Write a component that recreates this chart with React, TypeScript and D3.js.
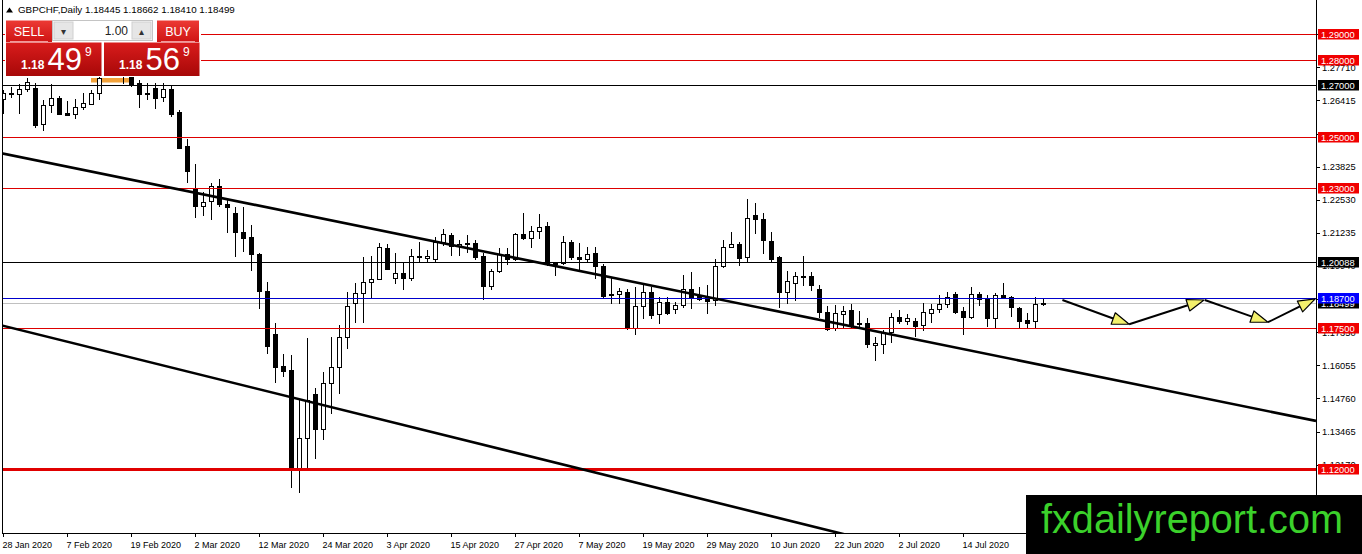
import React, { useEffect, useRef } from 'react';
import * as d3 from 'd3';

const WIDTH = 1362;
const HEIGHT = 554;
const PLOT_RIGHT = 1316;
const PLOT_BOTTOM = 533;

// GBPCHF daily candles, 28 Jan 2020 .. 28 Jul 2020 (one entry per bar)
const opens = [
  1.2648, 1.2669, 1.2665, 1.2685, 1.2689, 1.2548, 1.2622, 1.2651, 1.2592, 1.2587,
  1.2615, 1.2630, 1.2669, 1.2742, 1.2765, 1.2755, 1.2745, 1.2711, 1.2669, 1.2691,
  1.2654, 1.2686, 1.2597, 1.2463, 1.2298, 1.2229, 1.2248, 1.2307, 1.2237, 1.2200,
  1.2127, 1.2107, 1.2040, 1.1895, 1.1728, 1.1603, 1.1587, 1.1200, 1.1320, 1.1492,
  1.1356, 1.1535, 1.1598, 1.1715, 1.1848, 1.1887, 1.1930, 1.1942, 1.2063, 1.1946,
  1.1965, 1.1946, 1.2034, 1.2027, 1.2024, 1.2089, 1.2115, 1.2073, 1.2084, 1.2085,
  1.2033, 1.1917, 1.1972, 1.2040, 1.2020, 1.2119, 1.2105, 1.2132, 1.2150, 1.2006,
  1.2005, 1.2087, 1.2028, 1.2020, 1.2044, 1.1994, 1.1883, 1.1883, 1.1892, 1.1752,
  1.1835, 1.1891, 1.1805, 1.1852, 1.1825, 1.1839, 1.1903, 1.1877, 1.1874, 1.1861,
  1.1995, 1.2070, 1.2080, 1.2027, 1.2193, 1.2177, 1.2093, 1.2028, 1.1891, 1.1930,
  1.1955, 1.1955, 1.1903, 1.1815, 1.1750, 1.1809, 1.1822, 1.1772, 1.1772, 1.1685,
  1.1692, 1.1737, 1.1794, 1.1780, 1.1779, 1.1761, 1.1811, 1.1825, 1.1845, 1.1885,
  1.1819, 1.1794, 1.1885, 1.1864, 1.1790, 1.1881, 1.1874, 1.1829, 1.1783, 1.1780,
  1.18445,
];
const highs = [
  1.2682, 1.2695, 1.2706, 1.2728, 1.2708, 1.2643, 1.2706, 1.2659, 1.2639, 1.2646,
  1.2672, 1.2682, 1.2745, 1.2790, 1.2785, 1.2790, 1.2760, 1.2721, 1.2708, 1.2708,
  1.2708, 1.2702, 1.2604, 1.2491, 1.2392, 1.2283, 1.2319, 1.2333, 1.2252, 1.2226,
  1.2226, 1.2153, 1.2044, 1.1930, 1.1770, 1.1650, 1.1646, 1.1470, 1.1714, 1.1516,
  1.1581, 1.1715, 1.1763, 1.1894, 1.1926, 1.2028, 1.2033, 1.2085, 1.2080, 1.2044,
  1.2011, 1.2059, 1.2087, 1.2057, 1.2109, 1.2138, 1.2122, 1.2096, 1.2115, 1.2096,
  1.2046, 1.1982, 1.2063, 1.2063, 1.2124, 1.2200, 1.2150, 1.2197, 1.2167, 1.2011,
  1.2111, 1.2096, 1.2085, 1.2070, 1.2067, 1.2002, 1.1950, 1.1907, 1.1905, 1.1913,
  1.1924, 1.1913, 1.1872, 1.1872, 1.1855, 1.1959, 1.1972, 1.1913, 1.1920, 1.2020,
  1.2096, 1.2128, 1.2089, 1.2255, 1.2239, 1.2202, 1.2128, 1.2033, 1.1975, 1.1972,
  1.2033, 1.1972, 1.1920, 1.1836, 1.1842, 1.1838, 1.1845, 1.1819, 1.1790, 1.1718,
  1.1744, 1.1811, 1.1822, 1.1806, 1.1790, 1.1848, 1.1844, 1.1881, 1.1894, 1.1894,
  1.1835, 1.1911, 1.1894, 1.1881, 1.1887, 1.1929, 1.1877, 1.1833, 1.1811, 1.1872,
  1.18662,
];
const lows = [
  1.2592, 1.2656, 1.2591, 1.2680, 1.2539, 1.2526, 1.2597, 1.2590, 1.2584, 1.2574,
  1.2607, 1.2628, 1.2646, 1.2740, 1.2745, 1.2711, 1.2698, 1.2617, 1.2648, 1.2612,
  1.2639, 1.2582, 1.2454, 1.2324, 1.2187, 1.2193, 1.2178, 1.2229, 1.2128, 1.2034,
  1.2054, 1.1978, 1.1829, 1.1655, 1.1539, 1.1565, 1.1129, 1.1112, 1.1200, 1.1242,
  1.1316, 1.1418, 1.1499, 1.1672, 1.1774, 1.1776, 1.1872, 1.1942, 1.1982, 1.1929,
  1.1905, 1.1939, 1.2015, 1.2015, 1.2011, 1.2076, 1.2037, 1.2037, 1.2050, 1.2021,
  1.1864, 1.1903, 1.1972, 1.2002, 1.2018, 1.2098, 1.2067, 1.2102, 1.1998, 1.1959,
  1.2002, 1.2021, 1.1976, 1.2011, 1.1947, 1.1874, 1.1848, 1.1848, 1.1748, 1.1727,
  1.1790, 1.1790, 1.1770, 1.1805, 1.1811, 1.1835, 1.1829, 1.1861, 1.1809, 1.1842,
  1.1989, 1.2067, 1.1998, 1.2015, 1.2122, 1.2046, 1.2011, 1.1833, 1.1848, 1.1861,
  1.1920, 1.1900, 1.1796, 1.1745, 1.1744, 1.1757, 1.1754, 1.1757, 1.1679, 1.1627,
  1.1653, 1.1698, 1.1770, 1.1767, 1.1722, 1.1744, 1.1776, 1.1815, 1.1835, 1.1811,
  1.1728, 1.1790, 1.1842, 1.1759, 1.1754, 1.1868, 1.1800, 1.1754, 1.1754, 1.1754,
  1.18410,
];
const closes = [
  1.2672, 1.2664, 1.2685, 1.2712, 1.2545, 1.2624, 1.2650, 1.2590, 1.2586, 1.2615,
  1.2630, 1.2672, 1.2729, 1.2765, 1.2755, 1.2742, 1.2706, 1.2667, 1.2664, 1.2652,
  1.2685, 1.2588, 1.2458, 1.2367, 1.2226, 1.2246, 1.2308, 1.2235, 1.2224, 1.2126,
  1.2105, 1.2040, 1.1894, 1.1679, 1.1600, 1.1585, 1.1200, 1.1322, 1.1470, 1.1356,
  1.1535, 1.1598, 1.1715, 1.1838, 1.1887, 1.1930, 1.1942, 1.2067, 1.1982, 1.1965,
  1.1946, 1.2032, 1.2029, 1.2033, 1.2089, 1.2119, 1.2073, 1.2080, 1.2079, 1.2030,
  1.1917, 1.1976, 1.2040, 1.2020, 1.2119, 1.2105, 1.2132, 1.2148, 1.2002, 1.2002,
  1.2087, 1.2027, 1.2020, 1.2040, 1.1994, 1.1877, 1.1880, 1.1896, 1.1752, 1.1838,
  1.1891, 1.1802, 1.1852, 1.1809, 1.1842, 1.1903, 1.1868, 1.1864, 1.1858, 1.1995,
  1.2070, 1.2080, 1.2027, 1.2181, 1.2177, 1.2093, 1.2024, 1.1891, 1.1935, 1.1956,
  1.1950, 1.1920, 1.1813, 1.1750, 1.1809, 1.1819, 1.1763, 1.1767, 1.1689, 1.1694,
  1.1737, 1.1794, 1.1780, 1.1790, 1.1761, 1.1813, 1.1825, 1.1845, 1.1872, 1.1815,
  1.1796, 1.1885, 1.1864, 1.1790, 1.1881, 1.1870, 1.1833, 1.1780, 1.1770, 1.1845,
  1.18499,
];

// time axis: one label every 8 bars
const dateLabels = [
  '28 Jan 2020', '7 Feb 2020', '19 Feb 2020', '2 Mar 2020', '12 Mar 2020', '24 Mar 2020',
  '3 Apr 2020', '15 Apr 2020', '27 Apr 2020', '7 May 2020', '19 May 2020', '29 May 2020',
  '10 Jun 2020', '22 Jun 2020', '2 Jul 2020', '14 Jul 2020',
];
const labelStep = 8;

// price axis ticks
const priceTicks = [
  1.10875, 1.1217, 1.13465, 1.1476, 1.16055, 1.1735, 1.18645, 1.1994,
  1.21235, 1.2253, 1.23825, 1.2512, 1.26415, 1.2771, 1.29005,
];

// horizontal levels
const redLevels = [1.29, 1.28, 1.25, 1.23, 1.175];
const blackLevels = [1.27, 1.20088];
const blueLevels = [1.187];
const supportLevel = 1.12;
const bid = 1.18499;
const ask = 1.18569;
const lotSize = 1.0;

// trendlines as [bar, price]
const upperTrend: [number, number][] = [[-0.41, 1.2436], [164.1, 1.1388]];
const lowerTrend: [number, number][] = [[-0.41, 1.1763], [110, 1.0907]];

// projected zigzag, each pair is one arrow
const forecastArrows: [number, number][][] = [
  [[132.4, 1.1861], [140.75, 1.1766]],
  [[140.75, 1.1766], [150.1, 1.1861]],
  [[150.2, 1.1861], [158.1, 1.1774]],
  [[158.1, 1.1774], [164.0, 1.1865]],
];

const FONT = 'Liberation Sans, Arial, sans-serif';

export default function App() {
  const svgRef = useRef<SVGSVGElement>(null);

  useEffect(() => {
    if (!svgRef.current) return;
    const svg = d3.select(svgRef.current);
    svg.selectAll('*').remove();

    const x = d3.scaleLinear().domain([-0.4125, 164.1]).range([0, PLOT_RIGHT]);
    const y = d3.scaleLinear().domain([1.12, 1.29]).range([469, 34.3]);
    const px = (v: number) => Math.round(v) + 0.5;

    const defs = svg.append('defs');
    defs.append('clipPath').attr('id', 'plot-clip').append('rect')
      .attr('x', 2).attr('y', 0).attr('width', PLOT_RIGHT - 2).attr('height', PLOT_BOTTOM);

    const btnGrad = defs.append('linearGradient').attr('id', 'btn-red')
      .attr('x1', 0).attr('y1', 0).attr('x2', 0).attr('y2', 1);
    btnGrad.append('stop').attr('offset', '0%').attr('stop-color', '#ec3a34');
    btnGrad.append('stop').attr('offset', '100%').attr('stop-color', '#cf1414');
    const priceGrad = defs.append('linearGradient').attr('id', 'price-red')
      .attr('x1', 0).attr('y1', 0).attr('x2', 0).attr('y2', 1);
    priceGrad.append('stop').attr('offset', '0%').attr('stop-color', '#d91c1c');
    priceGrad.append('stop').attr('offset', '100%').attr('stop-color', '#a70808');

    svg.append('rect').attr('width', WIDTH).attr('height', HEIGHT).attr('fill', '#fff');

    const plot = svg.append('g').attr('clip-path', 'url(#plot-clip)');

    // bid line
    plot.append('line')
      .attr('x1', 0).attr('x2', PLOT_RIGHT)
      .attr('y1', px(y(bid))).attr('y2', px(y(bid)))
      .attr('stroke', '#c0c0c0').attr('stroke-width', 1);

    // orange marker under the trade panel
    plot.append('rect')
      .attr('x', 91).attr('y', 78).attr('width', 38).attr('height', 4.5)
      .attr('fill', '#f2a23a');

    // candles
    const bars = d3.range(opens.length);
    const candles = plot.append('g').attr('shape-rendering', 'crispEdges');
    candles.selectAll('line')
      .data(bars)
      .join('line')
      .attr('x1', i => px(x(i))).attr('x2', i => px(x(i)))
      .attr('y1', i => Math.round(y(highs[i]))).attr('y2', i => Math.round(y(lows[i])) + 1)
      .attr('stroke', '#000').attr('stroke-width', 1);
    candles.selectAll('rect')
      .data(bars)
      .join('rect')
      .attr('x', i => Math.round(x(i)) - 2 + 0.5)
      .attr('y', i => px(y(Math.max(opens[i], closes[i]))))
      .attr('width', 4)
      .attr('height', i => Math.max(1, Math.round(Math.abs(y(opens[i]) - y(closes[i])))))
      .attr('fill', i => (closes[i] >= opens[i] ? '#fff' : '#000'))
      .attr('stroke', '#000').attr('stroke-width', 1);

    // horizontal levels
    const hline = (p: number, color: string, w: number) => {
      const yy = w % 2 === 1 ? px(y(p)) : Math.round(y(p));
      plot.append('line')
        .attr('x1', 0).attr('x2', PLOT_RIGHT).attr('y1', yy).attr('y2', yy)
        .attr('stroke', color).attr('stroke-width', w);
    };
    redLevels.forEach(p => hline(p, '#dd0000', 1));
    blackLevels.forEach(p => hline(p, '#000', 1));
    blueLevels.forEach(p => hline(p, '#0000cc', 1));
    hline(supportLevel, '#e00000', 3);

    // trendlines
    const lineGen = d3.line<[number, number]>().x(d => x(d[0])).y(d => y(d[1]));
    [upperTrend, lowerTrend].forEach(t => {
      plot.append('path').attr('d', lineGen(t))
        .attr('fill', 'none').attr('stroke', '#000').attr('stroke-width', 2.6);
    });

    // forecast arrows
    const arrows = svg.append('g');
    forecastArrows.forEach(([a, b]) => {
      const x1 = x(a[0]), y1 = y(a[1]), x2 = x(b[0]), y2 = y(b[1]);
      const ang = Math.atan2(y2 - y1, x2 - x1);
      const len = 17, hw = 6;
      const bx = x2 - len * Math.cos(ang), by = y2 - len * Math.sin(ang);
      arrows.append('line')
        .attr('x1', x1).attr('y1', y1).attr('x2', bx).attr('y2', by)
        .attr('stroke', '#000').attr('stroke-width', 2);
      const pts = [
        [x2, y2],
        [bx + hw * Math.sin(ang), by - hw * Math.cos(ang)],
        [bx - hw * Math.sin(ang), by + hw * Math.cos(ang)],
      ];
      arrows.append('polygon')
        .attr('points', pts.map(p => p.join(',')).join(' '))
        .attr('fill', '#f3f06c').attr('stroke', '#000').attr('stroke-width', 1.2)
        .attr('stroke-linejoin', 'round');
    });

    // frame
    const frame = svg.append('g').attr('shape-rendering', 'crispEdges');
    frame.append('line').attr('x1', 2.5).attr('x2', 2.5).attr('y1', 0).attr('y2', PLOT_BOTTOM)
      .attr('stroke', '#000');
    frame.append('line').attr('x1', 2).attr('x2', PLOT_RIGHT + 1).attr('y1', PLOT_BOTTOM + 0.5)
      .attr('y2', PLOT_BOTTOM + 0.5).attr('stroke', '#000');
    frame.append('line').attr('x1', PLOT_RIGHT + 0.5).attr('x2', PLOT_RIGHT + 0.5)
      .attr('y1', 0).attr('y2', HEIGHT).attr('stroke', '#000');

    // time axis
    const timeAxis = svg.append('g');
    dateLabels.forEach((label, k) => {
      const xx = px(x(k * labelStep));
      timeAxis.append('line').attr('x1', xx).attr('x2', xx)
        .attr('y1', PLOT_BOTTOM).attr('y2', PLOT_BOTTOM + 4)
        .attr('stroke', '#000').attr('shape-rendering', 'crispEdges');
      timeAxis.append('text')
        .attr('x', xx - 1).attr('y', 548)
        .attr('font-family', FONT).attr('font-size', 9)
        .attr('fill', '#000').text(label);
    });

    // price axis; a tick label fully covered by a level tag is not written
    const tagged = [bid, supportLevel, ...redLevels, ...blackLevels, ...blueLevels];
    const priceAxis = svg.append('g');
    priceTicks.forEach(t => {
      const yy = px(y(t));
      priceAxis.append('line').attr('x1', PLOT_RIGHT).attr('x2', PLOT_RIGHT + 4)
        .attr('y1', yy).attr('y2', yy).attr('stroke', '#000')
        .attr('shape-rendering', 'crispEdges');
      const covered = tagged.some(p => Math.abs(y(p) - y(t)) < 3.5);
      if (covered) return;
      priceAxis.append('text')
        .attr('x', PLOT_RIGHT + 6).attr('y', y(t) + 3.5)
        .attr('font-family', FONT).attr('font-size', 9.3)
        .attr('fill', '#000').text(t.toFixed(5));
    });

    const priceTag = (p: number, bg: string) => {
      const cy = Math.round(y(p));
      priceAxis.append('rect')
        .attr('x', PLOT_RIGHT + 2).attr('y', cy - 5).attr('width', 41).attr('height', 10.5)
        .attr('fill', bg);
      priceAxis.append('text')
        .attr('x', PLOT_RIGHT + 5).attr('y', cy + 3.6)
        .attr('font-family', FONT).attr('font-size', 9.3)
        .attr('fill', '#fff').text(p.toFixed(5));
    };
    priceTag(bid, '#000');
    redLevels.forEach(p => priceTag(p, '#f00000'));
    priceTag(supportLevel, '#f00000');
    blackLevels.forEach(p => priceTag(p, '#000'));
    blueLevels.forEach(p => priceTag(p, '#0000ff'));

    // header
    const n = opens.length - 1;
    svg.append('polygon').attr('points', '6,12.5 9.5,7.5 13,12.5').attr('fill', '#000');
    svg.append('text')
      .attr('x', 18).attr('y', 13)
      .attr('font-family', FONT).attr('font-size', 9.8).attr('fill', '#000')
      .text(`GBPCHF,Daily  ${opens[n].toFixed(5)} ${highs[n].toFixed(5)} ${lows[n].toFixed(5)} ${closes[n].toFixed(5)}`);

    // one-click trading panel
    const panel = svg.append('g');
    panel.append('rect').attr('x', 5).attr('y', 19).attr('width', 196).attr('height', 58).attr('fill', '#fff');
    const button = (bx: number, w: number, label: string) => {
      panel.append('rect').attr('x', bx).attr('y', 20.5).attr('width', w).attr('height', 21.5)
        .attr('fill', 'url(#btn-red)');
      panel.append('line').attr('x1', bx + 4).attr('x2', bx + w - 4).attr('y1', 41.5).attr('y2', 41.5)
        .attr('stroke', '#f39a9a').attr('stroke-width', 1);
      panel.append('text').attr('x', bx + w / 2).attr('y', 35.5).attr('text-anchor', 'middle')
        .attr('font-family', FONT).attr('font-size', 12.5).attr('fill', '#fff').text(label);
    };
    button(6, 46, 'SELL');
    button(157, 42, 'BUY');

    // lot size control
    panel.append('rect').attr('x', 52.5).attr('y', 20.5).attr('width', 100).attr('height', 20)
      .attr('fill', '#fff').attr('stroke', '#c4c4c4');
    [[54, '▾'], [132, '▴']].forEach(([bx, ch]) => {
      panel.append('rect').attr('x', bx as number).attr('y', 22).attr('width', 19).attr('height', 17)
        .attr('fill', '#e6e6e6').attr('stroke', '#d0d0d0');
      panel.append('text').attr('x', (bx as number) + 9.5).attr('y', 34.5).attr('text-anchor', 'middle')
        .attr('font-family', 'DejaVu Sans, sans-serif').attr('font-size', 10).attr('fill', '#333')
        .text(ch as string);
    });
    panel.append('text').attr('x', 128).attr('y', 35).attr('text-anchor', 'end')
      .attr('font-family', FONT).attr('font-size', 12).attr('fill', '#222').text(lotSize.toFixed(2));

    // price boxes
    const priceBox = (bx: number, value: number) => {
      const s = value.toFixed(5);
      panel.append('rect').attr('x', bx).attr('y', 42.5).attr('width', 95.5).attr('height', 33.5)
        .attr('fill', 'url(#price-red)');
      panel.append('text').attr('x', bx + 15).attr('y', 69).attr('font-family', FONT)
        .attr('font-size', 12).attr('font-weight', 'bold').attr('fill', '#fff').text(s.slice(0, 4));
      panel.append('text').attr('x', bx + 41.5).attr('y', 69.5).attr('font-family', FONT)
        .attr('font-size', 31).attr('fill', '#fff').text(s.slice(4, 6));
      panel.append('text').attr('x', bx + 79).attr('y', 55.5).attr('font-family', FONT)
        .attr('font-size', 12).attr('fill', '#fff').text(s.slice(6));
    };
    priceBox(6, bid);
    priceBox(104, ask);

    // watermark
    svg.append('rect').attr('x', 1026).attr('y', 495).attr('width', WIDTH - 1026).attr('height', HEIGHT - 495)
      .attr('fill', '#000');
    svg.append('text').attr('x', 1041).attr('y', 533)
      .attr('font-family', FONT).attr('font-size', 40)
      .attr('textLength', 302).attr('lengthAdjust', 'spacingAndGlyphs')
      .attr('fill', '#3bd12b').text('fxdailyreport.com');
  }, []);

  return (
    <svg
      ref={svgRef}
      width={WIDTH}
      height={HEIGHT}
      style={{ position: 'absolute', left: 0, top: 0, display: 'block' }}
    />
  );
}
